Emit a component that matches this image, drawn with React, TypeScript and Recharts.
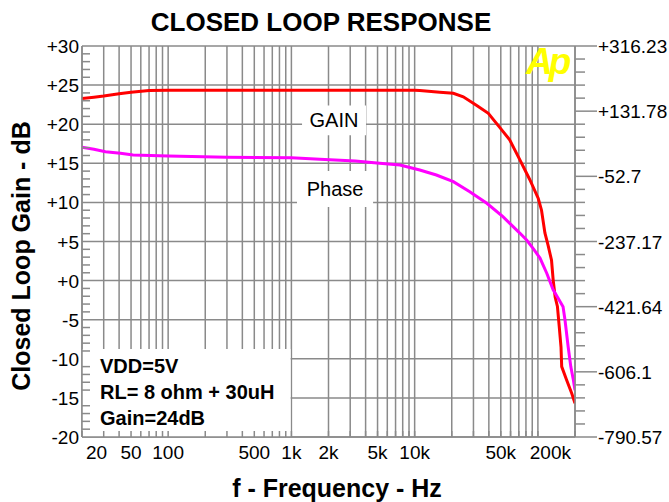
import React from 'react';
import { LineChart, Line, XAxis, YAxis, CartesianGrid, ReferenceArea } from 'recharts';

const FONT = '"Liberation Sans", Arial, sans-serif';
const GRID = '#8a8a8a';

// closed loop gain, dB (left axis)
const gainFreq = [20, 25, 30, 40, 50, 70, 100, 1000, 10000, 11000, 16000, 20600, 24800, 31900, 39600, 49000, 59000, 71600, 86000, 100700, 107000, 114000, 121000, 129000, 133000, 138000, 144000, 149000, 154000, 156000, 171000, 188000, 200000];
const gainDb = [23.3, 23.45, 23.6, 23.9, 24.1, 24.3, 24.35, 24.35, 24.35, 24.3, 24.1, 23.95, 23.5, 22.4, 21.4, 19.6, 18.0, 15.4, 12.9, 10.5, 9.0, 6.1, 4.5, 2.6, 0.1, -2.1, -3.3, -5.9, -8.5, -11.0, -12.7, -14.4, -15.7];

// phase (right axis)
const phaseFreq = [20, 25, 31, 41, 52, 100, 300, 1000, 1700, 3300, 5200, 7600, 11000, 15000, 20600, 28000, 38500, 52000, 71600, 81000, 92000, 104000, 118000, 133000, 146000, 160000, 166000, 176000, 185000, 194000, 200000];
const phaseVal = [29.5, 23.8, 17.0, 12.5, 7.7, 4.9, 1.1, 0.0, -4.5, -9.3, -15.8, -20.6, -34.8, -48.9, -67.9, -96.2, -129.1, -167, -214, -233, -258, -284, -327, -374, -398, -422, -460, -535, -592, -629, -658];

// axis ticks
const xLabelFreqs = [20, 50, 100, 500, 1000, 2000, 5000, 10000, 50000, 200000];
const leftMajor = [30, 25, 20, 15, 10, 5, 0, -5, -10, -15, -20];
const rightMajorLabels = ['+316.23', '+131.78', '-52.7', '-237.17', '-421.64', '-606.1', '-790.57'];

const rightMajor = rightMajorLabels.map(Number);

const gainData = gainFreq.map((f, i) => ({ f, v: gainDb[i] }));
const phaseData = phaseFreq.map((f, i) => ({ f, v: phaseVal[i] }));

// log grid: 2..9 per decade, 20 Hz .. 200 kHz
const gridFreqs: number[] = [];
for (const d of [10, 100, 1000, 10000, 100000]) {
  for (let m = 1; m <= 9; m++) {
    const f = m * d;
    if (f >= 20 && f <= 200000) gridFreqs.push(f);
  }
}

const leftTicks: number[] = [];
for (let v = -20; v <= 30; v++) leftTicks.push(v);

// right axis: 5 subdivisions per labelled interval
const rightTicks: number[] = [];
rightMajor.forEach((m, k) => {
  rightTicks.push(m);
  if (k < rightMajor.length - 1) {
    const step = (rightMajor[k + 1] - m) / 5;
    for (let j = 1; j < 5; j++) rightTicks.push(m + j * step);
  }
});

const fmtHz = (f: number) => (f >= 1000 ? `${f / 1000}k` : `${f}`);

const scaleOf = (axis: any, v: number) => {
  const s = axis?.scale;
  if (typeof s === 'function') return s(v);
  return s?.map ? s.map(v) : 0;
};

function LeftTick({ x, y, payload }: any) {
  const v = payload.value;
  if (v % 5 !== 0) {
    return <line x1={x} x2={x + 8} y1={y} y2={y} stroke={GRID} strokeWidth={1.5} />;
  }
  return (
    <text x={x - 3} y={y + 7} textAnchor="end" fontSize={19} fontFamily={FONT} fill="#000">
      {v >= 0 ? `+${v}` : `${v}`}
    </text>
  );
}

function RightTick({ x, y, payload }: any) {
  const k = rightMajor.findIndex(m => Math.abs(m - payload.value) < 0.01);
  if (k < 0) {
    return <line x1={x} x2={x + 10} y1={y} y2={y} stroke={GRID} strokeWidth={1.5} />;
  }
  return (
    <g>
      <line x1={x} x2={x + 22} y1={y} y2={y} stroke={GRID} strokeWidth={1.5} />
      <text x={x + 23} y={y + 7} textAnchor="start" fontSize={19} fontFamily={FONT} fill="#000">
        {rightMajorLabels[k]}
      </text>
    </g>
  );
}

function BottomTick({ x, y, payload }: any) {
  const f = payload.value;
  const i = xLabelFreqs.indexOf(f);
  const last = xLabelFreqs.length - 1;
  // end labels are kept inside the frame
  const anchor = i === 0 ? 'start' : i === last ? 'end' : 'middle';
  const tx = i === 0 ? x + 4 : i === last ? x - 4 : x;
  return (
    <g>
      <line x1={x} x2={x} y1={y} y2={y - 6} stroke={GRID} strokeWidth={1.5} />
      {i >= 0 && (
        <text x={tx} y={y + 22} textAnchor={anchor} fontSize={19} fontFamily={FONT} fill="#000">
          {fmtHz(f)}
        </text>
      )}
    </g>
  );
}

function InfoText({ viewBox }: any) {
  const { x, y } = viewBox;
  const lines = ['VDD=5V', 'RL= 8 ohm + 30uH', 'Gain=24dB'];
  return (
    <g>
      {lines.map((t, i) => (
        <text key={t} x={x + 18} y={y + 24 + i * 26} fontSize={20} fontWeight="bold" fontFamily={FONT} fill="#000">
          {t}
        </text>
      ))}
    </g>
  );
}

export default function App() {
  return (
    <div style={{ position: 'absolute', left: 0, top: 0, width: 669, height: 502, background: '#fff', fontFamily: FONT }}>
      <LineChart width={669} height={502} margin={{ top: 46, right: 0, bottom: 0, left: 0 }}>
        <CartesianGrid
          yAxisId="left"
          stroke={GRID}
          strokeWidth={1.5}
          verticalCoordinatesGenerator={({ xAxis }: any) => gridFreqs.map(f => scaleOf(xAxis, f))}
          horizontalCoordinatesGenerator={({ yAxis }: any) => leftMajor.map(v => scaleOf(yAxis, v))}
        />
        <ReferenceArea
          yAxisId="left"
          x1={1220}
          x2={4030}
          y1={18.6}
          y2={22.4}
          fill="#fff"
          fillOpacity={1}
          stroke="none"
          label={{ value: 'GAIN', position: 'center', fontSize: 20, fontFamily: FONT, fill: '#000' }}
        />
        <ReferenceArea
          yAxisId="left"
          x1={1110}
          x2={4600}
          y1={9.4}
          y2={14.0}
          fill="#fff"
          fillOpacity={1}
          stroke="none"
          label={{ value: 'Phase', position: 'center', fontSize: 20, fontFamily: FONT, fill: '#000' }}
        />
        <ReferenceArea
          yAxisId="left"
          x1={20}
          x2={985}
          y1={-20}
          y2={-8.75}
          fill="#fff"
          fillOpacity={1}
          stroke="none"
          label={(p: any) => <InfoText viewBox={p.viewBox} />}
        />
        <XAxis
          dataKey="f"
          type="number"
          scale="log"
          domain={[20, 200000]}
          allowDataOverflow
          ticks={gridFreqs}
          interval={0}
          tickLine={false}
          tickSize={0}
          tickMargin={0}
          height={65}
          axisLine={{ stroke: GRID, strokeWidth: 1.5 }}
          tick={(p: any) => <BottomTick {...p} />}
        />
        <YAxis
          yAxisId="left"
          type="number"
          domain={[-20, 30]}
          allowDataOverflow
          ticks={leftTicks}
          interval={0}
          width={82}
          tickLine={false}
          tickSize={0}
          tickMargin={0}
          axisLine={{ stroke: GRID, strokeWidth: 1.5 }}
          tick={(p: any) => <LeftTick {...p} />}
        />
        <YAxis
          yAxisId="right"
          orientation="right"
          type="number"
          domain={[-790.57, 316.23]}
          allowDataOverflow
          ticks={rightTicks}
          interval={0}
          width={94}
          tickLine={false}
          tickSize={0}
          tickMargin={0}
          axisLine={{ stroke: GRID, strokeWidth: 1.5 }}
          tick={(p: any) => <RightTick {...p} />}
        />
        <Line yAxisId="left" data={gainData} dataKey="v" type="linear" stroke="#ff0000" strokeWidth={3} dot={false} isAnimationActive={false} />
        <Line yAxisId="right" data={phaseData} dataKey="v" type="linear" stroke="#ff00ff" strokeWidth={3} dot={false} isAnimationActive={false} />
      </LineChart>

      <div style={{ position: 'absolute', left: 321, top: 9, transform: 'translateX(-50%)', fontSize: 26, fontWeight: 'bold', lineHeight: 1, whiteSpace: 'nowrap', color: '#000' }}>
        CLOSED LOOP RESPONSE
      </div>
      <div style={{ position: 'absolute', left: 337, top: 476, transform: 'translateX(-50%)', fontSize: 25, fontWeight: 'bold', lineHeight: 1, whiteSpace: 'nowrap', color: '#000' }}>
        f - Frequency - Hz
      </div>
      <div style={{ position: 'absolute', left: 20.5, top: 256, transform: 'translate(-50%, -50%) rotate(-90deg)', fontSize: 25, fontWeight: 'bold', lineHeight: 1, whiteSpace: 'nowrap', color: '#000' }}>
        Closed Loop Gain - dB
      </div>
      <div style={{ position: 'absolute', left: 526, top: 43, fontSize: 37, fontWeight: 'bold', fontStyle: 'italic', lineHeight: 1, letterSpacing: -4, color: '#ffff00' }}>
        Ap
      </div>
    </div>
  );
}
